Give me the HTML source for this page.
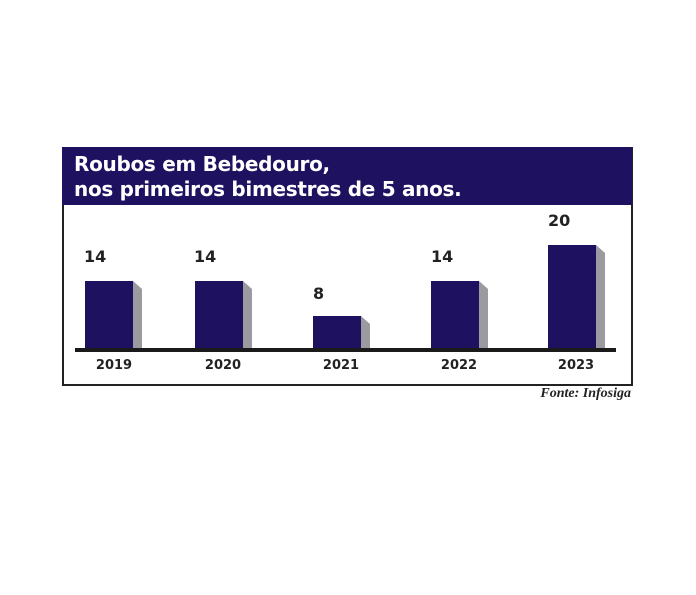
<!DOCTYPE html>
<html><head><style>
body{margin:0;width:696px;height:595px;background:#fff;position:relative;font-family:"DejaVu Sans","Liberation Sans",sans-serif;overflow:hidden}
.frame{position:absolute;left:62px;top:147px;width:567px;height:235px;border:2px solid #222;}
.band{position:absolute;left:62px;top:147px;width:570px;height:58px;background:#1e1160}
.t{position:absolute;left:74px;color:#fff;font-size:20px;font-weight:bold;white-space:nowrap;letter-spacing:-0.3px}
.v{position:absolute;font-weight:bold;font-size:16px;color:#222}
.y{position:absolute;font-weight:bold;font-size:13px;color:#222;width:60px;text-align:center}
</style></head><body>
<div class="frame"></div>
<div class="band"></div>
<div class="t" style="top:152px">Roubos em Bebedouro,</div>
<div class="t" style="top:177px">nos primeiros bimestres de 5 anos.</div>
<svg style="position:absolute;left:0;top:0" width="696" height="595">
<g fill="#9b9aa0">
<polygon points="133,281 142,289 142,349 133,349"/>
<polygon points="243,281 252,289 252,349 243,349"/>
<polygon points="361,316 370,324 370,349 361,349"/>
<polygon points="479,281 488,289 488,349 479,349"/>
<polygon points="596,245 605,253 605,349 596,349"/>
</g>
<g fill="#1e1160">
<rect x="85" y="281" width="48" height="68"/>
<rect x="195" y="281" width="48" height="68"/>
<rect x="313" y="316" width="48" height="33"/>
<rect x="431" y="281" width="48" height="68"/>
<rect x="548" y="245" width="48" height="104"/>
</g>
<rect x="75" y="348" width="541" height="4" fill="#1a1a1a"/>
</svg>
<div class="v" style="left:84px;top:247px">14</div>
<div class="v" style="left:194px;top:247px">14</div>
<div class="v" style="left:313px;top:284px">8</div>
<div class="v" style="left:431px;top:247px">14</div>
<div class="v" style="left:548px;top:211px">20</div>
<div class="y" style="left:84px;top:358px">2019</div>
<div class="y" style="left:193px;top:358px">2020</div>
<div class="y" style="left:311px;top:358px">2021</div>
<div class="y" style="left:429px;top:358px">2022</div>
<div class="y" style="left:546px;top:358px">2023</div>
<div style="position:absolute;right:65px;top:386px;font-family:'Liberation Serif',serif;font-style:italic;font-weight:bold;font-size:14px;color:#222">Fonte: Infosiga</div>
</body></html>
